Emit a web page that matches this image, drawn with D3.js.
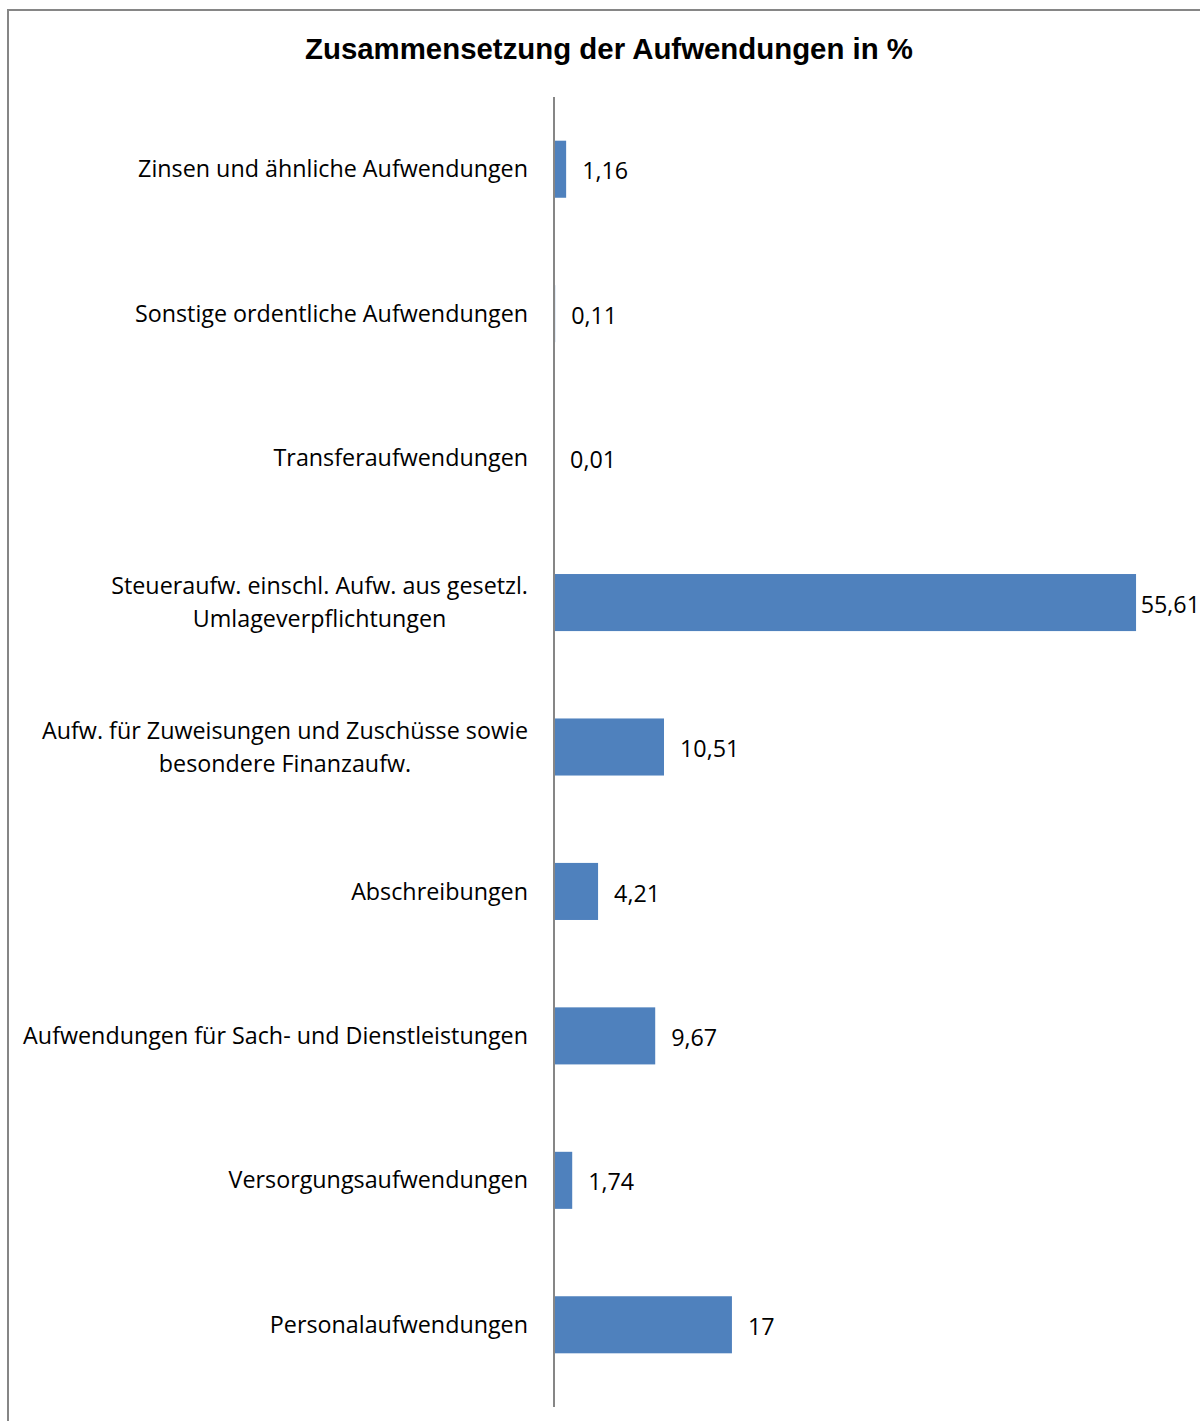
<!DOCTYPE html>
<html>
<head>
<meta charset="utf-8">
<script src="https://cdn.jsdelivr.net/npm/d3@7"></script>
<style>
  body { margin: 0; background: #fff; }
  svg { display: block; }
</style>
</head>
<body>
<svg id="chart"></svg>
<script>
var categories = [
    "Zinsen und ähnliche Aufwendungen",
    "Sonstige ordentliche Aufwendungen",
    "Transferaufwendungen",
    "Steueraufw. einschl. Aufw. aus gesetzl.\nUmlageverpflichtungen",
    "Aufw. für Zuweisungen und Zuschüsse sowie\nbesondere Finanzaufw.",
    "Abschreibungen",
    "Aufwendungen für Sach- und Dienstleistungen",
    "Versorgungsaufwendungen",
    "Personalaufwendungen"
];
var values = [1.16, 0.11, 0.01, 55.61, 10.51, 4.21, 9.67, 1.74, 17];
var xDomain = [0, 60];
var title = "Zusammensetzung der Aufwendungen in %";

var width = 1200, height = 1421;
var labelFont = "'Open Sans', Carlito, Calibri, sans-serif";

var svg = d3.select("#chart")
    .attr("width", width)
    .attr("height", height);

// chart frame, runs off the right and bottom edges like the original
svg.append("rect")
    .attr("x", 8).attr("y", 10)
    .attr("width", 1400).attr("height", 1600)
    .attr("fill", "none")
    .attr("stroke", "#868686")
    .attr("stroke-width", 2);

svg.append("text")
    .attr("x", 609).attr("y", 59)
    .attr("text-anchor", "middle")
    .attr("font-family", "'Liberation Sans', Arial, sans-serif")
    .attr("font-weight", "bold")
    .attr("font-size", 29.4)
    .attr("fill", "#000")
    .text(title);

var x = d3.scaleLinear().domain(xDomain).range([554, 1182]);
var y = d3.scaleBand()
    .domain(categories)
    .range([97, 1397])
    .paddingInner(0.605)
    .paddingOuter(0.3025);

var de = d3.formatLocale({decimal: ",", thousands: ".", grouping: [3], currency: ["", " €"]});
var fmt = de.format("~g");

var rows = categories.map(function(c, i) { return {cat: c, value: values[i]}; });

svg.append("g").selectAll("rect")
    .data(rows)
    .join("rect")
    .attr("x", x(0))
    .attr("y", function(d) { return y(d.cat); })
    .attr("width", function(d) { return x(d.value) - x(0); })
    .attr("height", y.bandwidth())
    .attr("fill", "#4F81BD");

// category axis line
svg.append("line")
    .attr("x1", x(0)).attr("x2", x(0))
    .attr("y1", 97).attr("y2", 1407)
    .attr("stroke", "#868686")
    .attr("stroke-width", 2);

// category labels, wrapped lines centred on each other, block right aligned
var labels = svg.append("g")
    .attr("font-family", labelFont)
    .attr("font-size", 23.3)
    .attr("fill", "#000");

rows.forEach(function(d) {
    var lines = d.cat.split("\n");
    var cy = y(d.cat) + y.bandwidth() / 2;
    var lineH = 33;
    var g = labels.append("g");
    var texts = lines.map(function(l, i) {
        return g.append("text")
            .attr("y", cy + (i - (lines.length - 1) / 2) * lineH)
            .attr("dy", "0.35em")
            .text(l);
    });
    var w = d3.max(texts, function(t) { return t.node().getComputedTextLength(); });
    var center = 528 - w / 2;
    texts.forEach(function(t) {
        t.attr("x", center).attr("text-anchor", "middle");
    });
});

// value labels
var valueG = svg.append("g")
    .attr("font-family", labelFont)
    .attr("font-size", 23.3)
    .attr("fill", "#000");

rows.forEach(function(d) {
    var t = valueG.append("text")
        .attr("y", y(d.cat) + y.bandwidth() / 2 + 2)
        .attr("dy", "0.35em")
        .text(fmt(d.value));
    var tw = t.node().getComputedTextLength();
    var tx = Math.min(x(d.value) + 16, width - tw);
    t.attr("x", tx);
});
</script>
</body>
</html>
